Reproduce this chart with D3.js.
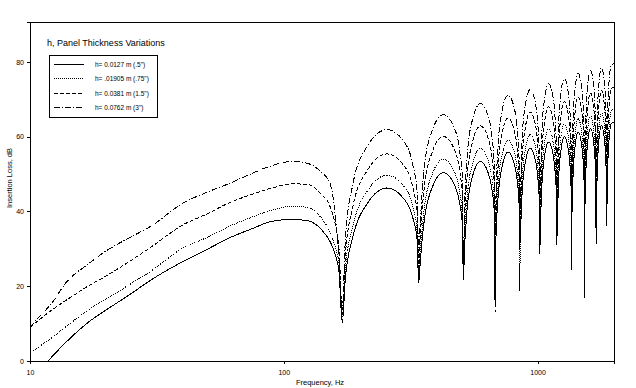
<!DOCTYPE html>
<html>
<head>
<meta charset="utf-8">
<script src="https://cdnjs.cloudflare.com/ajax/libs/d3/7.8.5/d3.min.js"></script>
<style>
  body { margin: 0; background: #fff; }
  svg { display: block; font-family: 'Liberation Sans', Arial, sans-serif; }
</style>
</head>
<body>
<div id="chart"></div>
<script>
'use strict';

// frequency grid, Hz (dips at multiples of ~170 Hz)
var freq = [10, 11, 12, 14, 17, 20, 25, 30, 40, 50, 60, 75, 90, 108, 125, 140, 152, 160, 165, 170,
    175, 187, 213, 255, 298, 323, 335, 340,
    345, 357, 383, 425, 468, 493, 505, 510,
    515, 527, 553, 595, 638, 663, 675, 680,
    685, 697, 723, 765, 808, 833, 845, 850,
    855, 867, 893, 935, 978, 1003, 1015, 1020,
    1025, 1037, 1063, 1105, 1148, 1173, 1185, 1190,
    1195, 1207, 1233, 1275, 1318, 1343, 1355, 1360,
    1365, 1377, 1403, 1445, 1488, 1513, 1525, 1530,
    1535, 1547, 1573, 1615, 1658, 1683, 1695, 1700,
    1705, 1717, 1743, 1785, 1828, 1853, 1865, 1870,
    1875, 1887, 1913, 1955, 2000];

// insertion loss, dB
var il0127 = [-5, -2.3, 0.6, 5.3, 10.4, 13.7, 18.0, 21.7, 26.6, 29.9, 32.7, 35.4, 37.4, 37.9, 37.5, 35.3, 32.0, 28.2, 24, 10.2,
    22.6, 33.1, 42.1, 46.3, 43.3, 38.1, 32.6, 20.9,
    26.7, 37.2, 46.2, 50.4, 47.4, 42.2, 36.7, 21.7,
    29.7, 40.2, 49.2, 53.4, 50.4, 45.2, 39.7, 13.1,
    32.2, 42.7, 51.7, 55.9, 52.9, 47.7, 42.2, 30,
    33.3, 43.8, 52.8, 57.0, 54.0, 48.8, 43.3, 28.6,
    34.9, 45.4, 54.4, 58.6, 55.6, 50.4, 44.9, 30.8,
    36.3, 46.8, 55.8, 60.0, 57.0, 51.8, 46.3, 24.6,
    37.6, 48.1, 57.1, 61.3, 58.3, 53.1, 47.6, 23,
    38.6, 49.1, 58.1, 62.3, 59.3, 54.1, 48.6, 31.3,
    39.3, 49.8, 58.8, 63.0, 60.0, 54.8, 49.3, 36.1,
    40.0, 50.5, 59.5, 63.6, 63.8];

var il01905 = [2.0, 4.1, 5.9, 9.4, 13.7, 16.6, 20.7, 24.1, 30.2, 33.1, 35.8, 38.5, 40.4, 41.4, 41.0, 38.4, 34.5, 30.1, 26, 11,
    25.0, 36.0, 45.4, 49.7, 46.6, 41.0, 35.0, 22,
    29.3, 40.3, 49.7, 54.0, 50.9, 45.3, 39.3, 23,
    32.1, 43.1, 52.5, 56.8, 53.7, 48.1, 42.1, 20,
    34.4, 45.4, 54.8, 59.1, 56.0, 50.4, 44.4, 18.5,
    35.9, 46.9, 56.3, 60.6, 57.5, 51.9, 45.9, 35,
    37.4, 48.4, 57.8, 62.1, 59.0, 53.4, 47.4, 36,
    38.8, 49.8, 59.2, 63.5, 60.4, 54.8, 48.8, 33,
    40.1, 51.1, 60.5, 64.8, 61.7, 56.1, 50.1, 16.6,
    41.0, 52.0, 61.4, 65.7, 62.6, 57.0, 51.0, 40,
    41.8, 52.8, 62.2, 66.5, 63.4, 57.8, 51.8, 38,
    42.5, 53.5, 62.8, 67.1, 67.4];

var il0381 = [9.0, 11.3, 13.3, 16.4, 20.1, 22.8, 26.9, 30.5, 36.4, 39.4, 42.1, 44.6, 46.3, 47.4, 47.2, 44.7, 41.4, 36, 30, 12.6,
    28.7, 41.2, 50.9, 55.4, 52.2, 46.2, 39.7, 25,
    33.4, 45.9, 55.6, 60.1, 56.9, 50.9, 44.4, 25,
    36.2, 48.7, 58.4, 62.9, 59.7, 53.7, 47.2, 24,
    38.3, 50.8, 60.5, 65.0, 61.8, 55.8, 49.3, 36,
    39.9, 52.4, 62.1, 66.6, 63.4, 57.4, 50.9, 38,
    41.3, 53.8, 63.5, 68.0, 64.8, 58.8, 52.3, 40,
    42.7, 55.2, 64.9, 69.4, 66.2, 60.2, 53.7, 36,
    44.0, 56.5, 66.2, 70.7, 67.5, 61.5, 55.0, 40,
    45.0, 57.5, 67.2, 71.7, 68.5, 62.5, 56.0, 44,
    45.7, 58.2, 67.9, 72.4, 69.2, 63.2, 56.7, 40,
    46.3, 58.8, 68.5, 72.9, 73.2];

var il0762 = [9.0, 12.2, 14.9, 21.3, 26.0, 29.5, 33.2, 36.1, 42.2, 45.2, 47.3, 50.2, 52.3, 53.4, 52.8, 50.6, 47.6, 38.2, 27.7, 14,
    33.2, 47.2, 57.4, 61.9, 58.6, 52.2, 45.2, 29,
    37.2, 51.2, 61.4, 65.9, 62.6, 56.2, 49.2, 26,
    40.2, 54.2, 64.4, 68.9, 65.6, 59.2, 52.2, 26,
    42.4, 56.4, 66.6, 71.1, 67.8, 61.4, 54.4, 40,
    43.9, 57.9, 68.1, 72.6, 69.3, 62.9, 55.9, 42,
    45.5, 59.5, 69.7, 74.2, 70.9, 64.5, 57.5, 43,
    46.9, 60.9, 71.1, 75.6, 72.3, 65.9, 58.9, 38,
    48.2, 62.2, 72.4, 76.9, 73.6, 67.2, 60.2, 35,
    49.1, 63.1, 73.3, 77.8, 74.5, 68.1, 61.1, 46,
    49.7, 63.7, 73.9, 78.4, 75.1, 68.7, 61.7, 42,
    50.5, 64.5, 75.0, 79.2, 79.6];

var seriesNames = ['h= 0.0127 m (.5")', 'h= .01905 m (.75")', 'h= 0.0381 m (1.5")', 'h= 0.0762 m  (3")'];
var seriesValues = [il0127, il01905, il0381, il0762];
var dashes = [null, '1,1', '4,2', '6,2,1,2'];

var xTicks = [10, 100, 1000];
var yTicks = [0, 20, 40, 60, 80];

var svg = d3.select('#chart')
    .append('svg')
        .attr('width', 636)
        .attr('height', 388);

var margin = {top: 22, right: 22, bottom: 27, left: 30},
    width = 636 - margin.left - margin.right,
    height = 388 - margin.top - margin.bottom;

var xScale = d3.scaleLog()
    .domain([10, 2000])
    .range([margin.left, margin.left + width]);

var yScale = d3.scaleLinear()
    .domain([0, 90.7])
    .range([margin.top + height, margin.top]);

svg.append('clipPath')
    .attr('id', 'plotClip')
  .append('rect')
    .attr('x', margin.left)
    .attr('y', margin.top)
    .attr('width', width)
    .attr('height', height);

// frame
svg.append('rect')
    .attr('x', margin.left + 0.5)
    .attr('y', margin.top + 0.5)
    .attr('width', width)
    .attr('height', height)
    .attr('fill', 'none')
    .attr('stroke', '#000')
    .attr('stroke-width', 1)
    .attr('shape-rendering', 'crispEdges');

var line = d3.line()
    .x(function(d, i) { return xScale(freq[i]); })
    .y(function(d) { return yScale(d); })
    .curve(d3.curveMonotoneX);

svg.append('g')
    .attr('clip-path', 'url(#plotClip)')
  .selectAll('path')
    .data(seriesValues)
    .enter().append('path')
        .attr('d', line)
        .attr('fill', 'none')
        .attr('stroke', '#000')
        .attr('stroke-width', 1)
        .attr('shape-rendering', 'crispEdges')
        .attr('stroke-dasharray', function(d, i) { return dashes[i]; });

var xAxis = d3.axisBottom(xScale)
    .tickValues(xTicks)
    .tickSize(3)
    .tickPadding(6)
    .tickFormat(d3.format('d'));

var yAxis = d3.axisLeft(yScale)
    .tickValues(yTicks)
    .tickSize(3)
    .tickPadding(3);

var gx = svg.append('g')
    .attr('transform', 'translate(0,' + (margin.top + height) + ')')
    .call(xAxis);

var gy = svg.append('g')
    .attr('transform', 'translate(' + margin.left + ',0)')
    .call(yAxis);

[gx, gy].forEach(function(g) {
    g.select('.domain').attr('stroke', '#000').attr('shape-rendering', 'crispEdges');
    g.selectAll('.tick line').attr('stroke', '#000').attr('shape-rendering', 'crispEdges');
    g.selectAll('.tick text')
        .attr('fill', '#000')
        .style('font-family', "'Liberation Sans', Arial, sans-serif")
        .style('font-size', '7px');
});

svg.append('text')
    .attr('x', 320)
    .attr('y', 385)
    .attr('text-anchor', 'middle')
    .style('font-size', '7.5px')
    .text('Frequency, Hz');

svg.append('text')
    .attr('transform', 'translate(12,178) rotate(-90)')
    .attr('text-anchor', 'middle')
    .style('font-size', '7.5px')
    .text('Insertion Loss, dB');

// title and legend
svg.append('text')
    .attr('x', 47)
    .attr('y', 46)
    .style('font-size', '9px')
    .text('h, Panel Thickness Variations');

svg.append('rect')
    .attr('x', 49.5)
    .attr('y', 55.5)
    .attr('width', 108)
    .attr('height', 62)
    .attr('fill', '#fff')
    .attr('stroke', '#000')
    .attr('stroke-width', 1)
    .attr('shape-rendering', 'crispEdges');

var legendRows = [63.5, 78, 92.5, 107];

var item = svg.selectAll('.legend-item')
    .data(seriesNames)
    .enter().append('g')
        .attr('class', 'legend-item')
        .attr('transform', function(d, i) { return 'translate(0,' + legendRows[i] + ')'; });

item.append('line')
    .attr('x1', 54)
    .attr('x2', 84)
    .attr('y1', 0.5)
    .attr('y2', 0.5)
    .attr('stroke', '#000')
    .attr('shape-rendering', 'crispEdges')
    .attr('stroke-dasharray', function(d, i) { return dashes[i]; });

item.append('text')
    .attr('x', 95)
    .attr('y', 3)
    .style('font-size', '6.5px')
    .text(function(d) { return d; });
</script>
</body>
</html>
